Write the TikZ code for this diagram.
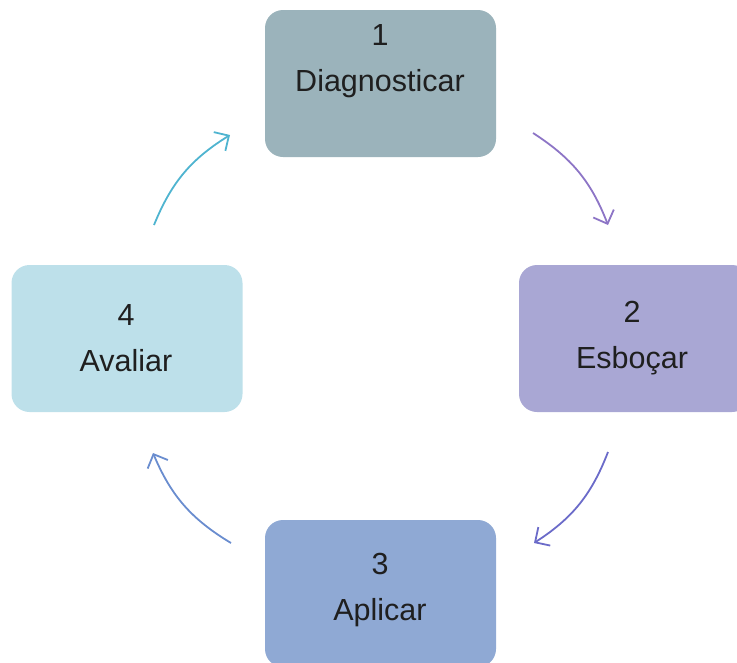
\documentclass[tikz,border=0pt]{standalone}
\usepackage{fontspec}
\setmainfont{Liberation Sans}
\usetikzlibrary{arrows.meta}
\definecolor{cA}{HTML}{9BB3BB}
\definecolor{cB}{HTML}{A9A7D4}
\definecolor{cC}{HTML}{8FA9D4}
\definecolor{cD}{HTML}{BDE0EA}
\definecolor{aA}{HTML}{8D75C6}
\definecolor{aB}{HTML}{6B6BC9}
\definecolor{aC}{HTML}{6A8DCF}
\definecolor{aD}{HTML}{4FB4D0}
\tikzset{
  box/.style={rectangle, rounded corners=18pt, minimum width=231pt, minimum height=147pt, inner sep=0pt, draw=none},
  lbl/.style={align=center, font=\fontsize{30.5}{46}\selectfont, text=black!88},
  arr/.style={line width=1.8pt, -{Straight Barb[length=11pt,width=22pt,line width=1.8pt]}, bend left=18},
}
\begin{document}
\begin{tikzpicture}[x=1pt,y=1pt]
\useasboundingbox (0,0) rectangle (737,-662);
\clip (0,0) rectangle (737,-662);
\node[box, fill=cA] (b1) at (380.5,-83.5) {};
\node[box, fill=cB] (b2) at (634.5,-338.5) {};
\node[box, fill=cC] (b3) at (380.5,-593.5) {};
\node[box, fill=cD] (b4) at (127,-338.5) {};
\node[lbl] (t1) at (380,-61) {1\\Diagnosticar};
\node[lbl] (t2) at (632,-338) {2\\Esboçar};
\node[lbl] (t3) at (380,-590) {3\\Aplicar};
\node[lbl] (t4) at (126,-338) {4\\Avaliar};
\coordinate (s1) at (533,-133); \coordinate (e1) at (608,-225);
\coordinate (s2) at (608,-452); \coordinate (e2) at (534,-543);
\coordinate (s3) at (231,-543); \coordinate (e3) at (153,-453);
\coordinate (s4) at (154,-225); \coordinate (e4) at (230,-135);
\draw[arr, aA] (s1) to (e1);
\draw[arr, aB] (s2) to (e2);
\draw[arr, aC] (s3) to (e3);
\draw[arr, aD] (s4) to (e4);
\end{tikzpicture}
\end{document}
